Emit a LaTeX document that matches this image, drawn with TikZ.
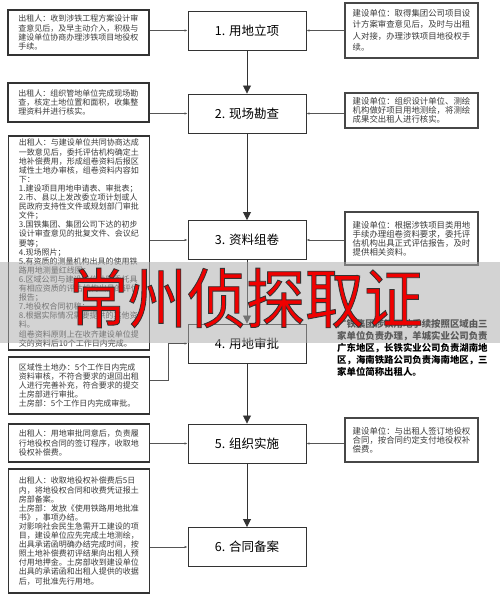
\documentclass[tikz,border=0pt]{standalone}
\usepackage{fontspec}
\setmainfont{Noto Sans CJK SC}
\usetikzlibrary{arrows.meta}

\definecolor{framegray}{HTML}{333333}
\definecolor{notetext}{HTML}{3A3A3A}
\definecolor{linkgray}{HTML}{555555}
\definecolor{markred}{HTML}{F00000}

% outlined text (fill + stroke) for the watermark
\newcommand{\outlinedtext}[1]{%
  \special{pdf:literal direct 2 Tr 0.8 w 0.2 0.2 0.2 RG}#1\special{pdf:literal direct 0 Tr}}

\begin{document}
\begin{tikzpicture}[
    x=1pt, y=-1pt,
    stepbox/.style={
        rectangle,
        draw=framegray,
        line width=0.9pt,
        minimum width=118pt,
        minimum height=39pt,
        font=\fontsize{12.5}{15}\selectfont,
        align=center
    },
    leftnote/.style={
        rectangle,
        draw=framegray,
        line width=1.3pt,
        inner xsep=8pt,
        inner ysep=2pt,
        minimum width=141pt,
        text=notetext,
        font=\fontsize{8}{9.1}\selectfont,
        align=left
    },
    rightnote/.style={
        rectangle,
        draw=framegray!90,
        line width=1.1pt,
        inner xsep=7pt,
        inner ysep=2pt,
        minimum width=133pt,
        text=notetext,
        font=\fontsize{8.4}{9}\selectfont,
        align=left
    },
    varrow/.style={-{Triangle[length=8pt,width=8pt]}, line width=0.8pt, draw=framegray},
    harrow/.style={-{Latex[length=3pt,width=2.5pt]}, line width=0.7pt, draw=linkgray},
]

\useasboundingbox (0,0) rectangle (500,606);

% === STEPS (middle column) ===
\node[stepbox] (c1) at (247,30.5) {1. 用地立项};
\node[stepbox] (c2) at (247,113.5) {2. 现场勘查};
\node[stepbox] (c3) at (247,240) {3. 资料组卷};
\node[stepbox] (c4) at (247,343.5) {4. 用地审批};
\node[stepbox] (c5) at (247,443.5) {5. 组织实施};
\node[stepbox] (c6) at (247,547) {6. 合同备案};

% === LEFT NOTES (出租人) ===
\node[leftnote, minimum height=45pt] (l1) at (78.5,32.5)
{出租人：收到涉铁工程方案设计审\\查意见后，及早主动介入，积极与\\建设单位协商办理涉铁项目地役权\\手续。};
\node[leftnote, minimum height=39pt] (l2) at (78.5,102.5)
{出租人：组织管地单位完成现场勘\\查，核定土地位置和面积，收集整\\理资料并进行核实。};
\node[leftnote, minimum height=214pt] (l3) at (79,243)
{出租人：与建设单位共同协商达成\\一致意见后，委托评估机构确定土\\地补偿费用，形成组卷资料后报区\\域性土地办审核，组卷资料内容如\\下：\\
1.建设项目用地申请表、审批表；\\2.市、县以上发改委立项计划或人\\民政府支持性文件或规划部门审批\\文件；\\
3.国铁集团、集团公司下达的初步\\设计审查意见的批复文件、会议纪\\要等；\\4.现场照片；\\
5.有资质的测量机构出具的使用铁\\路用地测量红线图；\\6.区域公司与建设单位共同委托具\\有相应资质的评估机构出具的评估\\报告；\\
7.地役权合同初稿；\\8.根据实际情况需要提供的其他资\\料。\\组卷资料原则上在收齐建设单位提\\交的资料后10个工作日内完成。};
\node[leftnote, minimum height=57pt] (l4) at (79,385.5)
{区域性土地办：5个工作日内完成\\资料审核，不符合要求的退回出租\\人进行完善补充，符合要求的提交\\土房部进行审批。\\土房部：5个工作日内完成审批。};
\node[leftnote, minimum height=38pt] (l5) at (79,443)
{出租人：用地审批同意后，负责履\\行地役权合同的签订程序，收取地\\役权补偿费。};
\node[leftnote, minimum height=124pt] (l6) at (79,531)
{出租人：收取地役权补偿费后5日\\内，将地役权合同和收费凭证报土\\房部备案。\\土房部：发放《使用铁路用地批准\\书》，事项办结。\\
对影响社会民生急需开工建设的项\\目，建设单位应先完成土地测绘，\\出具承诺函明确办结完成时间，按\\照土地补偿费初评结果向出租人预\\付用地押金。土房部收到建设单位\\出具的承诺函和出租人提供的收据\\后，可批准先行用地。};

% === RIGHT NOTES (建设单位) ===
\node[rightnote, minimum height=55pt, font=\fontsize{8.4}{11.5}\selectfont] (r1) at (411.5,30.5)
{建设单位：取得集团公司项目设\\计方案审查意见后，及时与出租\\人对接，办理涉铁项目地役权手\\续。};
\node[rightnote, minimum height=35pt] (r2) at (411.5,110.5)
{建设单位：组织设计单位、测绘\\机构做好项目用地测绘，将测绘\\成果交出租人进行核实。};
\node[rightnote, minimum height=53pt] (r3) at (411.5,238.5)
{建设单位：根据涉铁项目类用地\\手续办理组卷资料要求，委托评\\估机构出具正式评估报告，及时\\提供相关资料。};
\node[rightnote, minimum height=44pt] (r5) at (411.5,440)
{建设单位：与出租人签订地役权\\合同，按合同约定支付地役权补\\偿费。};

\node[anchor=north west, inner sep=0pt, align=left,
      font=\fontsize{9.4}{12}\selectfont\bfseries] (r4) at (337,319)
{广铁集团涉铁用地手续按照区域由三\\家单位负责办理，羊城实业公司负责\\广东地区，长铁实业公司负责湖南地\\区，海南铁路公司负责海南地区，三\\家单位简称出租人。};

% Arrows
\draw[varrow] (c1) -- (c2);
\draw[varrow] (c2) -- (c3);
\draw[varrow] (c3) -- (c4);
\draw[varrow] (c4) -- (c5);
\draw[varrow] (c5) -- (c6);

\draw[harrow] (l1.east |- c1) -- (c1.west);
\draw[harrow] (l2.east |- c2) -- (c2.west);
\draw[harrow] (l3.east |- c3) -- (c3.west);
\coordinate (bend4) at (168,380);
\draw[harrow] ([yshift=5.5pt]l4.east) -| (bend4 |- c4.west) -- (c4.west);
\draw[harrow] (l5.east |- c5) -- (c5.west);
\draw[harrow] (l6.east |- c6) -- (c6.west);

\draw[harrow] (r1.west |- c1) -- (c1.east);
\draw[harrow] (r2.west |- c2) -- (c2.east);
\draw[harrow] (r3.west |- c3) -- (c3.east);
\draw[harrow] (r5.west |- c5) -- (c5.east);

% === WATERMARK BAND ===
\fill[black!33, opacity=0.53] (0,262) rectangle (500,343);
\node[text=markred, font=\fontsize{59}{60}\selectfont] (wm) at (246,298)
{\scalebox{1}[1.1]{\outlinedtext{常州侦探取证}}};

\end{tikzpicture}
\end{document}
